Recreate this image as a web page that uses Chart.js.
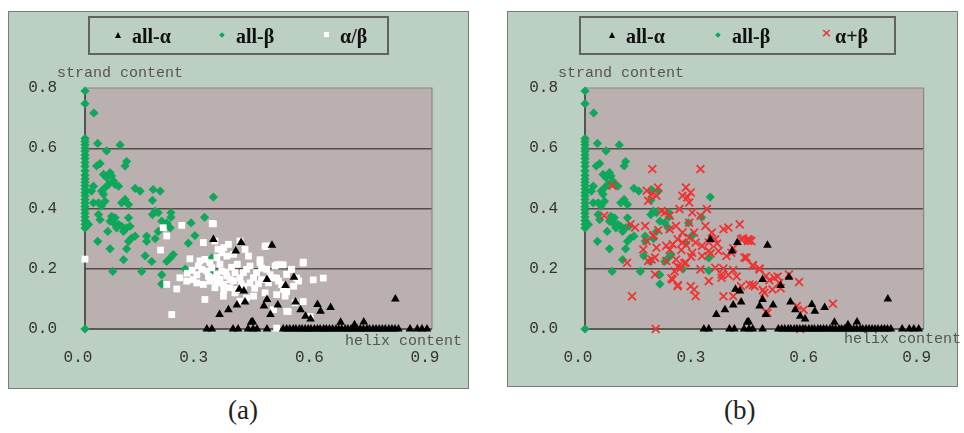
<!DOCTYPE html>
<html>
<head>
<meta charset="utf-8">
<script src="https://cdn.jsdelivr.net/npm/chart.js@4.4.1/dist/chart.umd.min.js"></script>
<style>
  body { margin:0; width:964px; height:433px; background:#fff; position:relative; overflow:hidden; }
  .panel { position:absolute; background:#bccfc3; border:1.5px solid #7a7a7a; box-sizing:border-box; }
  canvas { position:absolute; }
  .axt { position:absolute; font:15px 'Liberation Mono', monospace; color:#555; white-space:nowrap; line-height:15px; }
  .legend { position:absolute; border:2px solid #626262; box-sizing:border-box; }
  .lt { position:absolute; top:7px; font:bold 20px 'Liberation Serif', serif; color:#111; line-height:22px; white-space:nowrap; }
  .mk { position:absolute; }
  .cap { position:absolute; top:395px; font:27px 'Liberation Serif', serif; color:#222; }
</style>
</head>
<body>

<div class="panel" style="left:8px;top:11px;width:461px;height:378px;"></div>
<canvas id="chartA" width="460" height="377" style="left:8px;top:11px;"></canvas>
<div class="panel" style="left:507px;top:11px;width:451px;height:376px;"></div>
<canvas id="chartB" width="450" height="376" style="left:507px;top:11px;"></canvas>

<!-- legend (a) -->
<div class="legend" style="left:88px;top:16px;width:301px;height:39px;">
  <div class="mk" style="left:25px;top:14px;width:0;height:0;border-left:3.5px solid transparent;border-right:3.5px solid transparent;border-bottom:6px solid #000;"></div>
  <div class="lt" style="left:42px;">all-α</div>
  <div class="mk" style="left:130px;top:15px;width:4px;height:4px;background:#12a55a;transform:rotate(45deg);"></div>
  <div class="lt" style="left:146px;">all-β</div>
  <div class="mk" style="left:234px;top:14px;width:5px;height:5px;background:#fff;"></div>
  <div class="lt" style="left:250px;">α/β</div>
</div>
<!-- legend (b) -->
<div class="legend" style="left:579px;top:16px;width:317px;height:39px;">
  <div class="mk" style="left:28px;top:14px;width:0;height:0;border-left:3.5px solid transparent;border-right:3.5px solid transparent;border-bottom:6px solid #000;"></div>
  <div class="lt" style="left:45px;">all-α</div>
  <div class="mk" style="left:135px;top:15px;width:4px;height:4px;background:#12a55a;transform:rotate(45deg);"></div>
  <div class="lt" style="left:151px;">all-β</div>
  <div class="mk" style="left:240px;top:7px;font:bold 13px 'DejaVu Sans',sans-serif;color:#ee3333;">×</div>
  <div class="lt" style="left:254px;">α+β</div>
</div>

<div class="axt" style="left:57px;top:66px;">strand content</div>
<div class="axt" style="left:345px;top:334px;">helix content</div>
<div class="axt" style="left:558px;top:66px;">strand content</div>
<div class="axt" style="left:844px;top:332px;">helix content</div>

<div class="cap" style="left:228px;">(a)</div>
<div class="cap" style="left:724px;">(b)</div>

<script>
// tick labels
const xTicks = [0.0, 0.3, 0.6, 0.9];
const yTicks = [0.0, 0.2, 0.4, 0.6, 0.8];

// all-alpha (black triangles), same in both panels
const allAlpha = [
  [0.333,0.297],[0.405,0.287],[0.485,0.278],[0.391,0.259],
  [0.400,0.132],[0.412,0.126],
  [0.349,0.048],[0.372,0.064],[0.394,0.080],[0.415,0.090],[0.431,0.022],
  [0.472,0.164],[0.542,0.172],[0.520,0.144],
  [0.472,0.098],[0.464,0.076],[0.500,0.080],[0.481,0.048],
  [0.546,0.090],[0.559,0.064],[0.572,0.042],[0.585,0.033],
  [0.603,0.081],[0.611,0.059],[0.637,0.071],
  [0.805,0.100],
  [0.663,0.022],[0.699,0.014],[0.723,0.023],[0.435,0.024],
  [0.316,0],[0.329,0],[0.384,0],[0.397,0],[0.423,0],[0.436,0],[0.446,0],[0.472,0],
  [0.514,0],[0.523,0],[0.531,0],[0.540,0],[0.547,0],[0.556,0],[0.563,0],[0.571,0],
  [0.579,0],[0.586,0],[0.595,0],[0.603,0],[0.610,0],[0.619,0],[0.626,0],[0.634,0],
  [0.642,0],[0.651,0],[0.658,0],[0.666,0],[0.675,0],[0.682,0],[0.690,0],[0.699,0],
  [0.706,0],[0.714,0],[0.722,0],[0.731,0],[0.738,0],[0.747,0],[0.755,0],[0.763,0],
  [0.771,0],[0.779,0],[0.788,0],[0.796,0],[0.804,0],[0.813,0],[0.843,0],[0.862,0],
  [0.874,0],[0.887,0]
];

// all-beta (green diamonds), same in both panels
const allBeta = [
  [0,0.790],[0,0.748],[0.023,0.717],
  [0,0.632],[0,0.622],[0,0.612],[0,0.600],[0,0.590],[0,0.578],[0,0.566],[0,0.553],
  [0,0.540],[0,0.525],[0,0.510],[0,0.498],[0,0.487],[0,0.476],[0,0.465],[0,0.453],
  [0,0.442],[0,0.430],[0,0.418],[0,0.407],[0,0.396],[0,0.384],[0,0.372],[0,0.360],
  [0,0.348],[0,0.335],[0,0],
  [0.033,0.616],[0.091,0.611],[0.056,0.591],
  [0.030,0.541],[0.039,0.549],[0.104,0.541],[0.108,0.556],
  [0.048,0.513],[0.056,0.502],[0.065,0.519],[0.069,0.508],[0.074,0.491],
  [0.022,0.474],[0.017,0.458],
  [0.043,0.458],[0.052,0.469],[0.048,0.447],[0.061,0.480],[0.078,0.480],[0.087,0.474],
  [0.130,0.467],[0.143,0.458],[0.177,0.463],[0.195,0.458],[0.175,0.427],[0.333,0.438],
  [0.022,0.419],[0.035,0.419],[0.052,0.424],[0.043,0.408],[0.104,0.430],[0.113,0.413],[0.095,0.419],
  [0.182,0.391],[0.190,0.386],[0.175,0.380],[0.223,0.386],[0.223,0.371],
  [0.035,0.380],[0.039,0.363],[0.069,0.374],[0.078,0.369],[0.065,0.358],[0.074,0.352],
  [0.087,0.347],[0.095,0.341],[0.082,0.336],[0.113,0.369],[0.108,0.336],[0.117,0.341],
  [0.100,0.324],[0.059,0.324],[0.009,0.347],
  [0.199,0.358],[0.212,0.352],[0.221,0.336],[0.190,0.324],
  [0.310,0.371],[0.275,0.352],[0.285,0.310],
  [0.121,0.302],[0.113,0.291],[0.130,0.308],
  [0.033,0.291],[0.160,0.308],[0.160,0.291],[0.182,0.300],
  [0.065,0.266],[0.108,0.266],[0.156,0.243],[0.173,0.224],[0.100,0.230],
  [0.212,0.224],[0.221,0.236],[0.229,0.247],[0.260,0.199],[0.072,0.191],[0.147,0.191],
  [0.199,0.180],[0.199,0.149],[0.329,0.194],[0.329,0.236],[0.268,0.285]
];

// alpha/beta (white squares), panel (a)
const alphaBeta = [
  [0,0.232],[0.203,0.336],[0.333,0.349],
  [0.251,0.344],[0.330,0.350],[0.196,0.262],[0.212,0.309],[0.307,0.287],[0.337,0.292],
  [0.372,0.281],[0.402,0.292],[0.470,0.276],[0.272,0.233],[0.298,0.226],[0.311,0.231],
  [0.324,0.220],[0.342,0.237],[0.355,0.253],[0.368,0.242],[0.385,0.248],[0.415,0.264],
  [0.424,0.242],[0.294,0.209],[0.303,0.198],[0.316,0.192],[0.329,0.203],[0.342,0.181],
  [0.355,0.192],[0.368,0.176],[0.376,0.164],[0.389,0.187],[0.402,0.170],[0.411,0.187],
  [0.419,0.198],[0.428,0.209],[0.437,0.170],[0.445,0.187],[0.246,0.170],[0.264,0.159],
  [0.281,0.164],[0.290,0.153],[0.307,0.148],[0.324,0.159],[0.342,0.153],[0.359,0.148],
  [0.376,0.137],[0.394,0.131],[0.411,0.142],[0.428,0.153],[0.454,0.220],[0.471,0.198],
  [0.493,0.209],[0.506,0.214],[0.523,0.181],[0.536,0.198],[0.566,0.222],[0.458,0.164],
  [0.476,0.153],[0.489,0.170],[0.502,0.159],[0.515,0.131],[0.541,0.142],[0.554,0.159],
  [0.212,0.148],[0.238,0.133],[0.311,0.098],[0.337,0.137],[0.359,0.109],[0.389,0.120],
  [0.402,0.092],[0.419,0.103],[0.437,0.109],[0.467,0.120],[0.497,0.114],[0.519,0.109],
  [0.545,0.087],[0.225,0.048],[0.489,0.064],[0.523,0.059],[0.497,0.003],
  [0.467,0.274],[0.454,0.230],[0.458,0.202],[0.497,0.213],[0.514,0.213],[0.536,0.197],
  [0.566,0.219],[0.549,0.169],[0.592,0.163],[0.618,0.169],[0.480,0.180],[0.497,0.169],
  [0.510,0.147],[0.523,0.124],[0.566,0.091],[0.527,0.058],[0.584,0.041],
  [0.333,0.170],[0.350,0.165],[0.365,0.190],[0.380,0.205],[0.395,0.215],[0.350,0.215],
  [0.320,0.175],[0.385,0.160],[0.360,0.128],[0.405,0.150],[0.440,0.135],[0.450,0.150],
  [0.345,0.265],[0.360,0.270],[0.290,0.180],[0.278,0.195],[0.265,0.185]
];

// alpha+beta (red crosses), panel (b)
const alphaPlusBeta = [
  [0.179,0.531],[0.307,0.531],[0.073,0.476],[0.164,0.459],[0.177,0.448],[0.168,0.426],
  [0.194,0.470],[0.190,0.442],[0.268,0.470],[0.281,0.453],[0.272,0.437],[0.277,0.420],
  [0.259,0.442],[0.051,0.376],[0.203,0.392],[0.212,0.387],[0.225,0.376],[0.251,0.398],
  [0.285,0.387],[0.324,0.398],[0.307,0.376],[0.121,0.348],[0.133,0.337],[0.160,0.342],
  [0.181,0.309],[0.164,0.292],[0.225,0.331],[0.242,0.342],[0.259,0.320],[0.277,0.353],
  [0.290,0.320],[0.320,0.342],[0.337,0.320],[0.155,0.264],[0.190,0.270],[0.177,0.231],
  [0.216,0.276],[0.233,0.281],[0.246,0.298],[0.259,0.287],[0.277,0.303],[0.294,0.287],
  [0.311,0.276],[0.329,0.287],[0.346,0.298],[0.368,0.331],[0.381,0.337],[0.411,0.348],
  [0.112,0.220],[0.168,0.226],[0.186,0.237],[0.216,0.226],[0.242,0.231],[0.268,0.220],
  [0.285,0.253],[0.311,0.242],[0.329,0.259],[0.355,0.259],[0.376,0.242],[0.389,0.253],
  [0.415,0.298],[0.433,0.292],[0.424,0.237],[0.186,0.181],[0.233,0.164],[0.246,0.142],
  [0.281,0.142],[0.290,0.131],[0.294,0.109],[0.329,0.159],[0.363,0.170],[0.368,0.109],
  [0.394,0.109],[0.415,0.142],[0.437,0.148],[0.125,0.109],[0.188,0],[0.255,0.203],
  [0.238,0.192],[0.307,0.198],[0.346,0.203],[0.363,0.181],
  [0.433,0.298],[0.442,0.292],[0.429,0.237],[0.446,0.209],[0.464,0.198],[0.481,0.176],
  [0.503,0.170],[0.516,0.153],[0.498,0.131],[0.451,0.142],[0.477,0.120],[0.542,0.181],
  [0.569,0.156],[0.485,0.053],[0.563,0.076],[0.581,0.064],[0.659,0.084],[0.572,0],
  [0.182,0.312],[0.195,0.328],[0.225,0.262],[0.256,0.262],[0.269,0.279],[0.282,0.240],
  [0.334,0.251],[0.351,0.284],[0.394,0.268],[0.420,0.301],[0.438,0.295],[0.247,0.207],
  [0.264,0.218],[0.368,0.201],[0.394,0.196],[0.446,0.212],[0.464,0.201],[0.230,0.168],
  [0.247,0.146],[0.381,0.179],[0.403,0.174],[0.446,0.146],[0.473,0.129],[0.490,0.162],
  [0.512,0.174],[0.520,0.135],[0.481,0.057]
];

const toPts = arr => arr.map(p => ({ x: p[0], y: p[1] }));

// plot background and frame
const plotFrame = {
    id: "plotFrame",
    beforeDraw(chart) {
        const a = chart.chartArea, ctx = chart.ctx;
        ctx.save();
        ctx.fillStyle = "#b9b0af";
        ctx.fillRect(a.left, a.top, a.right - a.left, a.bottom - a.top);
        ctx.restore();
    },
    beforeDatasetsDraw(chart) {
        const a = chart.chartArea, ctx = chart.ctx;
        ctx.save();
        ctx.strokeStyle = "#8d8585";
        ctx.lineWidth = 1.2;
        ctx.beginPath();
        ctx.moveTo(a.left, a.top); ctx.lineTo(a.right, a.top); ctx.lineTo(a.right, a.bottom);
        ctx.stroke();
        ctx.strokeStyle = "#3c3838";
        ctx.lineWidth = 1.6;
        ctx.beginPath();
        ctx.moveTo(a.left, a.top); ctx.lineTo(a.left, a.bottom); ctx.lineTo(a.right, a.bottom);
        ctx.stroke();
        ctx.restore();
    }
};

function makeChart(id, third, thirdLabel, box) {
    const thirdSet = third === "white"
        ? { label: thirdLabel, data: toPts(alphaBeta), pointStyle: "rect", pointRadius: 4.8,
            backgroundColor: "#ffffff", borderColor: "#ffffff", borderWidth: 0, order: 1, clip: false }
        : { label: thirdLabel, data: toPts(alphaPlusBeta), pointStyle: "crossRot", pointRadius: 5.5,
            backgroundColor: "#ee3333", borderColor: "#ee3333", borderWidth: 1.8, order: 1, clip: false };

    return new Chart(document.getElementById(id), {
        type: "scatter",
        data: {
            datasets: [
                { label: "all-α", data: toPts(allAlpha), pointStyle: "triangle", pointRadius: 5,
                  backgroundColor: "#000", borderColor: "#000", borderWidth: 0, order: 0, clip: false },
                thirdSet,
                { label: "all-β", data: toPts(allBeta), pointStyle: "rectRot", pointRadius: 4.6,
                  backgroundColor: "#0fa75a", borderColor: "#0fa75a", borderWidth: 0, order: 2, clip: false }
            ]
        },
        options: {
            responsive: false,
            animation: false,
            events: [],
            layout: { padding: { top: 77, right: box.padRight, left: 0, bottom: 0 } },
            plugins: { legend: { display: false }, tooltip: { enabled: false } },
            scales: {
                x: {
                    type: "linear", min: 0, max: 0.9,
                    afterBuildTicks: s => { s.ticks = xTicks.map(v => ({ value: v })); },
                    afterFit: s => { s.height = box.xHeight; },
                    grid: { display: false, drawTicks: false },
                    border: { display: false },
                    ticks: {
                        padding: 19, labelOffset: -7, maxRotation: 0, color: "#333",
                        font: { family: "Liberation Mono", size: 16 },
                        callback: v => v.toFixed(1)
                    }
                },
                y: {
                    type: "linear", min: 0, max: 0.8,
                    afterBuildTicks: s => { s.ticks = yTicks.map(v => ({ value: v })); },
                    afterFit: s => { s.width = box.yWidth; },
                    grid: {
                        drawTicks: false, lineWidth: 1.5,
                        color: c => (c.tick && c.tick.value > 0.01 && c.tick.value < 0.79) ? "#554c4c" : "rgba(0,0,0,0)"
                    },
                    border: { display: false },
                    ticks: {
                        padding: box.yPad, color: "#333",
                        font: { family: "Liberation Mono", size: 16 },
                        callback: v => v.toFixed(1)
                    }
                }
            }
        },
        plugins: [plotFrame]
    });
}

makeChart("chartA", "white", "α/β", { padRight: 36, xHeight: 59, yWidth: 77, yPad: 28 });
makeChart("chartB", "red", "α+β", { padRight: 26, xHeight: 58, yWidth: 78, yPad: 27 });
</script>
</body>
</html>
